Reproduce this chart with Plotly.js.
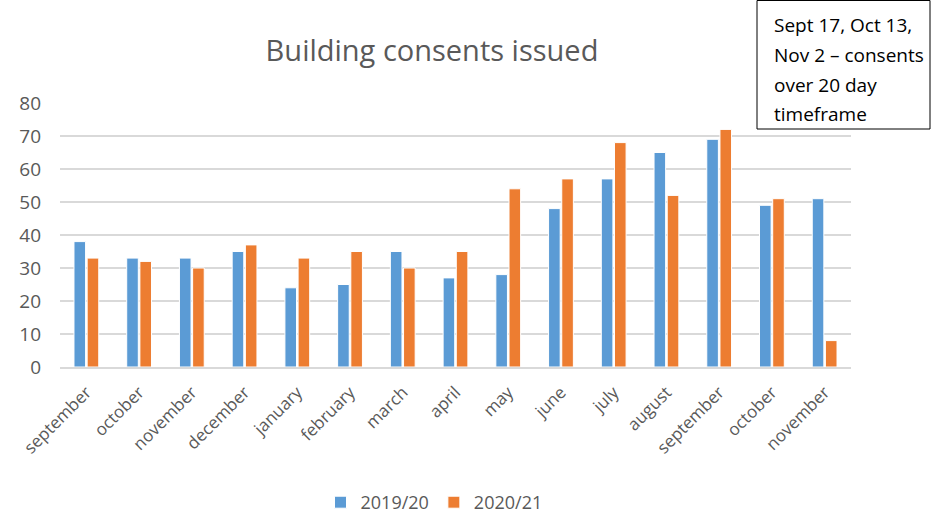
<!DOCTYPE html>
<html>
<head>
<meta charset="utf-8">
<script src="https://cdn.plot.ly/plotly-3.0.1.min.js"></script>
<style>html,body{margin:0;padding:0;background:#fff;}#chart{width:931px;height:521px;}</style>
</head>
<body>
<div id="chart"></div>
<script>
const months = ["september","october","november","december","january","february","march","april","may","june","july","august","september","october","november"];
const series2019 = [38,33,33,35,24,25,35,27,28,48,57,65,69,49,51];
const series2020 = [33,32,30,37,33,35,30,35,54,57,68,52,72,51,8];
const seriesNames = ["2019/20","2020/21"];
const noteLines = ["Sept 17, Oct 13,","Nov 2 – consents","over 20 day","timeframe"];

const idx = months.map((m,i)=>i);
const FONT = "'Open Sans', sans-serif";
const W = 931, H = 521;
const traces = [
  {type:"bar", x:idx, y:series2019, name:seriesNames[0],
   marker:{color:"#5B9BD5", line:{color:"#ffffff", width:1}}},
  {type:"bar", x:idx, y:series2020, name:seriesNames[1],
   marker:{color:"#ED7D31", line:{color:"#ffffff", width:1}}}
];
const plotL = 60, plotR = 851, plotT = 103, plotB = 367;
const px = v => (v - plotL) / (plotR - plotL);
const py = v => (plotB - v) / (plotB - plotT);
const noteCenters = [25, 55, 85, 114];
const annotations = noteLines.map((t,i)=>({
  xref:"paper", yref:"paper", x:px(772), y:py(noteCenters[i]), xanchor:"left", yanchor:"middle",
  text:t, showarrow:false, align:"left", font:{size:19, color:"#000", family:FONT}
}));
const layout = {
  width:W, height:H,
  margin:{l:plotL, r:W-plotR, t:plotT, b:H-plotB},
  paper_bgcolor:"#fff", plot_bgcolor:"#fff",
  font:{family:FONT, color:"#595959"},
  title:{text:"Building consents issued", x:432/W, xanchor:"center", y:1-51/H, yanchor:"middle",
         font:{size:29, color:"#595959", family:FONT}},
  barmode:"group", bargap:0.5, bargroupgap:0.12,
  showlegend:true,
  legend:{orientation:"h", x:434/W, xanchor:"center", xref:"container", y:0, yref:"container", yanchor:"bottom",
          font:{size:18, color:"#595959"}, itemwidth:30, traceorder:"normal", tracegroupgap:0},
  xaxis:{tickmode:"array", tickvals:idx, ticktext:months, tickangle:-45, range:[-0.5,14.5],
         showgrid:false, zeroline:false, showline:true, linecolor:"#D9D9D9", linewidth:1.5,
         ticks:"", tickfont:{size:17, color:"#595959"}, ticklabelstandoff:7},
  yaxis:{range:[0,80], dtick:10, showgrid:true, gridcolor:"#D9D9D9", gridwidth:1.5, zeroline:false,
         ticks:"", tickfont:{size:19, color:"#595959"}, ticklabelstandoff:18},
  shapes:[{type:"rect", xref:"paper", yref:"paper", x0:px(757), x1:px(930), y0:py(0.5), y1:py(129),
           line:{color:"#000", width:1}, fillcolor:"#fff", layer:"above"}],
  annotations:annotations
};
Plotly.newPlot("chart", traces, layout, {displayModeBar:false});
</script>
</body>
</html>
